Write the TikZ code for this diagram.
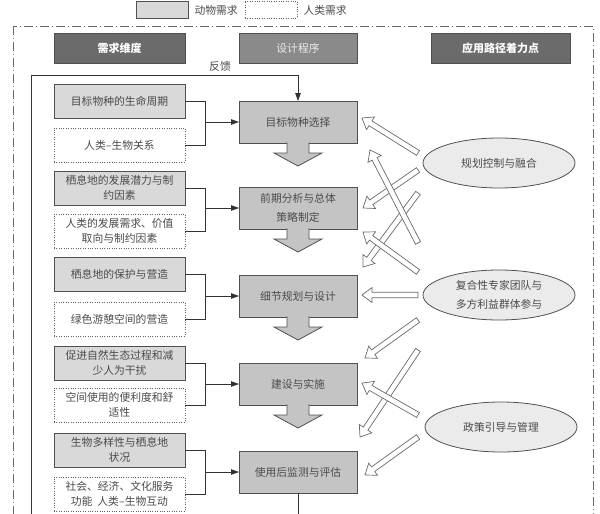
\documentclass[tikz,border=0pt]{standalone}
\usepackage{fontspec}
\setmainfont{Noto Sans CJK SC}
\usetikzlibrary{arrows.meta,calc,shapes.geometric}
\definecolor{lg}{HTML}{D9D9D9}
\definecolor{cg}{HTML}{C4C4C4}
\definecolor{hd}{HTML}{6B6B6B}
\definecolor{hm}{HTML}{8A8A8A}
\definecolor{bd}{HTML}{505050}
\definecolor{tx}{HTML}{4A4A4A}
\definecolor{eg}{HTML}{EBEBEB}
\definecolor{ag}{HTML}{6A6A6A}
\newcommand{\downshaft}[1]{%
  \draw[cout, fill=cg] ($(#1.south)+(-11,-0.6)$) -- ($(#1.south)+(-11,10)$) -- ($(#1.south)+(-24,10)$) -- ($(#1.south)+(0,23)$) -- ($(#1.south)+(24,10)$) -- ($(#1.south)+(11,10)$) -- ($(#1.south)+(11,-0.6)$);}
\newcommand{\harr}[2]{%
  \path ($(#2)!10pt!(#1)$) coordinate (hH);
  \draw[harrow] ($(#1)!2.8pt!90:(#2)$) -- ($(hH)!2.8pt!90:(#2)$) -- ($(hH)!7.5pt!90:(#2)$) -- (#2) -- ($(hH)!7.5pt!-90:(#2)$) -- ($(hH)!2.8pt!-90:(#2)$) -- ($(#1)!2.8pt!-90:(#2)$) -- cycle;}
\begin{document}
\begin{tikzpicture}[x=1pt,y=-1pt,
  every node/.style={font=\fontsize{10.8}{15.5}\selectfont, text=tx},
  lbox/.style={draw=bd, line width=0.8pt, fill=lg, minimum width=131pt, minimum height=34pt, inner sep=1pt, outer sep=0pt, anchor=north west, align=center},
  hbox/.style={lbox, fill=white, draw=bd!90, line width=1pt, dash pattern=on 1pt off 1.4pt},
  cbox/.style={draw=bd, line width=0.8pt, fill=cg, minimum width=118pt, minimum height=42pt, inner sep=1pt, outer sep=0pt, anchor=north west, align=center, font=\fontsize{10.8}{19}\selectfont},
  cout/.style={draw=bd, line width=0.8pt},
  head/.style={draw=bd, line width=0.8pt, fill=hd, minimum height=30pt, inner sep=0pt, outer sep=0pt, anchor=north west, font=\bfseries\fontsize{11}{13}\selectfont, text=white},
  ell/.style={ellipse, draw=bd, line width=0.8pt, fill=eg, minimum width=152pt, minimum height=50pt, inner sep=0pt, align=center, font=\fontsize{10.8}{19}\selectfont},
  conn/.style={draw=black!80, line width=0.8pt},
  tip/.style={-{Triangle[length=8pt,width=5.5pt]}},
  harrow/.style={draw=ag, fill=white, line width=0.7pt, line join=miter}
]
\clip (0,0) rectangle (600,514);
\fill[white] (0,0) rectangle (600,514);
% legend
\node[lbox, minimum width=52pt, minimum height=17pt] (lg1) at (136,1) {};
\node[anchor=west] (lgt1) at (191,10) {动物需求};
\node[hbox, minimum width=52pt, minimum height=17pt] (lg2) at (245,1) {};
\node[anchor=west] (lgt2) at (300,10) {人类需求};
% frame
\draw[draw=ag, line width=0.8pt, dash pattern=on 9pt off 3pt on 1pt off 3pt] (13,26) rectangle (593,560);
% headers
\node[head, minimum width=131pt] (h1) at (54,33) {需求维度};
\node[head, minimum width=118pt, fill=hm, font=\fontsize{10.8}{13}\selectfont, text=white!85!gray] (h2) at (239,33) {设计程序};
\node[head, minimum width=139pt] (h3) at (431,33) {应用路径着力点};
% left boxes
\node[lbox] (l1a) at (54,84) {目标物种的生命周期};
\node[hbox] (l1b) at (54,128) {人类–生物关系};
\node[lbox] (l2a) at (54,171) {栖息地的发展潜力与制\\约因素};
\node[hbox] (l2b) at (54,214) {人类的发展需求、价值\\取向与制约因素};
\node[lbox] (l3a) at (54,257) {栖息地的保护与营造};
\node[hbox] (l3b) at (54,302) {绿色游憩空间的营造};
\node[lbox] (l4a) at (54,346) {促进自然生态过程和减\\少人为干扰};
\node[hbox] (l4b) at (54,388) {空间使用的便利度和舒\\适性};
\node[lbox] (l5a) at (54,433) {生物多样性与栖息地\\状况};
\node[hbox] (l5b) at (54,477) {社会、经济、文化服务\\功能\ \ 人类–生物互动};
% center boxes
\node[cbox] (b1) at (239,101) {目标物种选择};
\node[cbox] (b2) at (239,187) {前期分析与总体\\策略制定};
\node[cbox] (b3) at (239,275) {细节规划与设计};
\node[cbox] (b4) at (239,363) {建设与实施};
\node[cbox] (b5) at (239,451) {使用后监测与评估};
\downshaft{b1}
\downshaft{b2}
\downshaft{b3}
\downshaft{b4}
% brackets
\foreach \i in {1,...,5}{
  \coordinate (j\i) at (205,0 |- b\i.west);
  \draw[conn] (l\i a.east) -| (j\i);
  \draw[conn] (l\i b.east) -| (j\i);
  \draw[conn,tip] (j\i) -- (b\i.west);
}
% feedback
\coordinate (fbL) at (31,75);
\coordinate (fbB) at (31,570);
\draw[conn,tip] (b5.south) |- (fbB) -- (fbL) -| (b1.north);
\node (fbt) at (220,66) {反馈};
% ellipses
\node[ell] (e1) at (499,163) {规划控制与融合};
\node[ell] (e2) at (499,295) {复合性专家团队与\\多方利益群体参与};
\node[ell] (e3) at (501,427) {政策引导与管理};
% hollow arrows
\coordinate (s1) at (418,153); \coordinate (t1) at (362,118);
\coordinate (s2) at (418,243); \coordinate (t2) at (370,150);
\coordinate (s3) at (418,170); \coordinate (t3) at (363,208);
\coordinate (s4) at (418,193); \coordinate (t4) at (363,267);
\coordinate (s5) at (418,272); \coordinate (t5) at (363,232);
\coordinate (s6) at (418,295); \coordinate (t6) at (362,295);
\coordinate (s7) at (418,320); \coordinate (t7) at (365,358);
\coordinate (s8) at (418,415); \coordinate (t8) at (362,383);
\coordinate (s9) at (418,350); \coordinate (t9) at (360,437);
\coordinate (s10) at (418,437); \coordinate (t10) at (365,475);
\harr{s1}{t1}
\harr{s3}{t3}
\harr{s4}{t4}
\harr{s2}{t2}
\harr{s5}{t5}
\harr{s6}{t6}
\harr{s7}{t7}
\harr{s9}{t9}
\harr{s8}{t8}
\harr{s10}{t10}
\end{tikzpicture}
\end{document}
